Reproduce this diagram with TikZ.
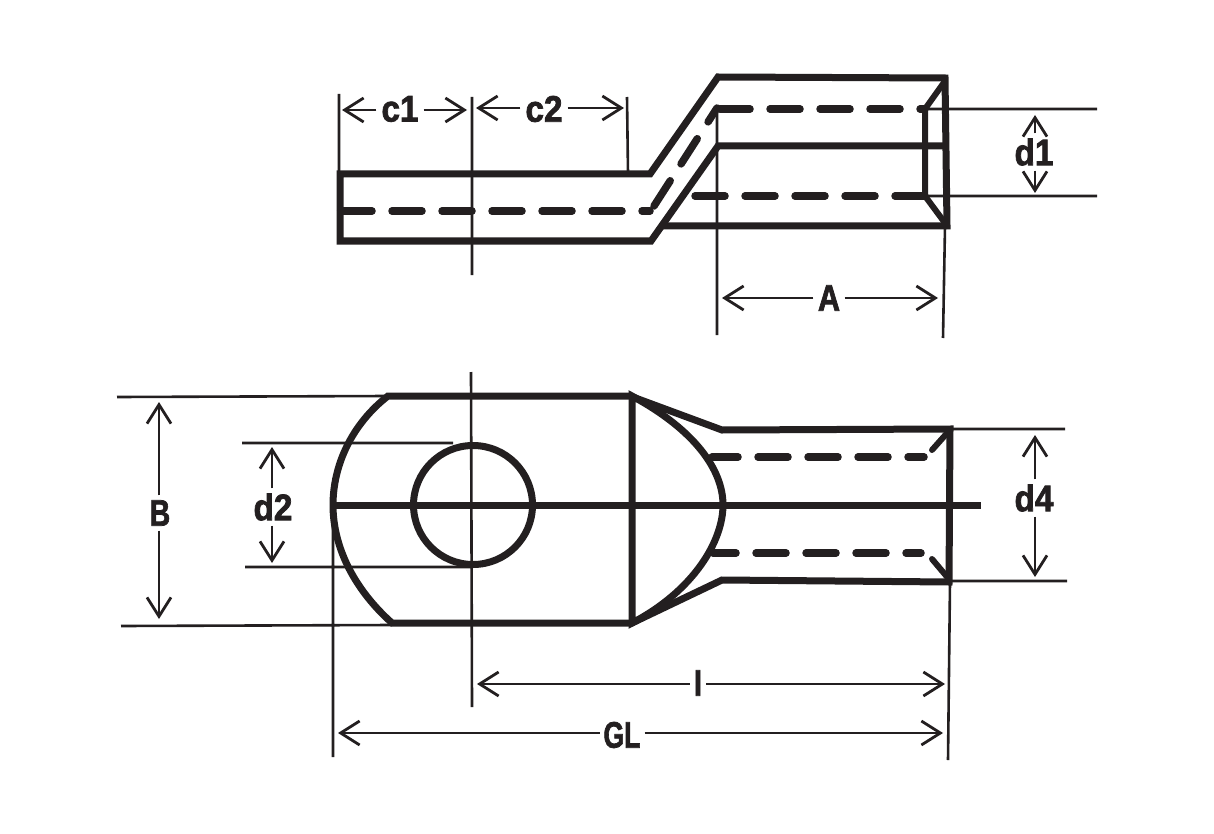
\documentclass[tikz,border=0pt]{standalone}
\usepackage{fontspec}
\setmainfont[FakeStretch=0.9,FakeBold=2]{Liberation Sans}
\usetikzlibrary{arrows.meta,calc}
\definecolor{ink}{HTML}{231F20}
\tikzset{
	thickline/.style={draw=ink,line width=7pt,line join=miter},
	midline/.style={draw=ink,line width=6pt,line cap=round},
	thinline/.style={draw=ink,line width=2.6pt},
	dashline/.style={draw=ink,line width=7.5pt,line cap=round,dash pattern=on 30pt off 20pt},
	dimline/.style={draw=ink,line width=2.6pt,-{Straight Barb[length=19pt,width=24pt,line width=2.8pt]}},
	dimlabel/.style={text=ink,font=\fontsize{37}{37}\selectfont\bfseries,inner sep=5pt,outer sep=0pt},
}
\begin{document}
\begin{tikzpicture}[x=1pt,y=-1pt]
	\useasboundingbox (0,0) rectangle (1214,834);
	% side view: thin extension lines
	\draw[thinline] (339,94) -- (339,174)
		(472,97) -- (472,275)
		(627,97) -- (628,174)
		(717,109) -- (717,335)
		(945,226) -- (943,338)
		(927,109) -- (1097,109)
		(927,196) -- (1097,196);
	% side view: outline
	\draw[thickline] (340,211) -- (340,174) -- (650,174) -- (718,77) -- (945,78) -- (947,226) -- (660,226);
	\draw[thickline] (340,211) -- (340,241) -- (651,241) -- (718,146) -- (945,146);
	\draw[thickline,line width=6pt] (925,196) -- (925,109) -- (945,81)
		(925,196) -- (945,223);
	\draw[dashline] (342,211) -- (650,211);
	\draw[dashline] (654,206) -- (717,108);
	\draw[dashline] (720,109) -- (925,109);
	\draw[dashline] (695,196) -- (925,196);
	% top view: thin extension lines
	\draw[thinline] (117,397) -- (388,396)
		(121,626) -- (392,625)
		(242,443) -- (453,443)
		(245,567) -- (470,567)
		(471,372) -- (472,707)
		(333,505) -- (333,757)
		(950,582) -- (948,760)
		(950,429) -- (1065,429)
		(950,581) -- (1067,581);
	% top view: outline
	\draw[thickline] (392,623) .. controls (355,590) and (333,548) .. (333,505)
		.. controls (333,465) and (352,424) .. (388,396) -- (630,396) -- (722,430) -- (950,429) -- (949,582) -- (722,580) -- (632,623) -- cycle;
	\draw[thickline] (632,396) .. controls (695,430) and (723,470) .. (723,505)
		.. controls (723,540) and (695,590) .. (632,623) -- cycle;
	\draw[thickline] (333,505) -- (981,505);
	\draw[thickline] (473,505) circle (59.5);
	\draw[dashline,dash phase=4pt] (712,457) -- (924,457);
	\draw[dashline,dash phase=7pt] (713,553) -- (921,553);
	\draw[midline] (932,450) -- (948,432)
		(932,559) -- (948,578);
	% dimension end points
	\coordinate (c1l) at (342,110);
	\coordinate (c1r) at (467,110);
	\coordinate (c2l) at (476,108);
	\coordinate (c2r) at (624,108);
	\coordinate (al) at (722,298);
	\coordinate (ar) at (938,298);
	\coordinate (d1t) at (1035,115);
	\coordinate (d1b) at (1035,193);
	\coordinate (bt) at (159,402);
	\coordinate (bb) at (159,619);
	\coordinate (d2t) at (272,447);
	\coordinate (d2b) at (272,563);
	\coordinate (d4t) at (1035,435);
	\coordinate (d4b) at (1035,577);
	\coordinate (il) at (477,684);
	\coordinate (ir) at (945,684);
	\coordinate (gll) at (338,733);
	\coordinate (glr) at (943,733);
	% labels
	\node(lblc1) [dimlabel] at (400,109) {c1};
	\node(lblc2) [dimlabel] at (544,109) {c2};
	\node(lbla) [dimlabel,xscale=0.92] at (829,298) {A};
	\node(lbld1) [dimlabel] at (1034,152) {d1};
	\node(lblb) [dimlabel,xscale=0.85] at (160,513) {B};
	\node(lbld2) [dimlabel] at (273,507) {d2};
	\node(lbld4) [dimlabel] at (1034,498) {d4};
	\node(lbli) [dimlabel,xscale=0.85] at (698,683) {I};
	\node(lblgl) [dimlabel,xscale=0.8] at (622,735) {GL};
	% dimension arrows
	\foreach \lbl/\a/\b in {lblc1/c1l/c1r,lblc2/c2l/c2r,lbla/al/ar,lbli/il/ir,lblgl/gll/glr}{
		\draw[dimline] (\a -| \lbl.west) -- (\a);
		\draw[dimline] (\b -| \lbl.east) -- (\b);
	}
	\foreach \lbl/\a/\b in {lbld1/d1t/d1b,lblb/bt/bb,lbld2/d2t/d2b,lbld4/d4t/d4b}{
		\draw[dimline] (\a |- \lbl.north) -- (\a);
		\draw[dimline] (\b |- \lbl.south) -- (\b);
	}
\end{tikzpicture}
\end{document}
